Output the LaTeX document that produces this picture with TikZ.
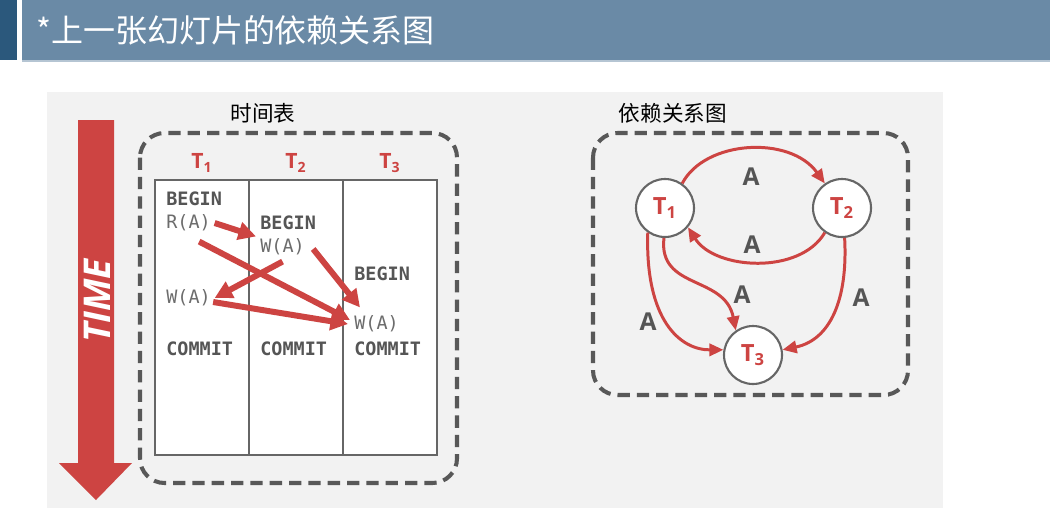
\documentclass[tikz,border=0pt]{standalone}
\usepackage{fontspec}
\setmainfont{Open Sans}
\newfontfamily\cjk{Noto Sans CJK SC}
\newfontfamily\mono{DejaVu Sans Mono}
\usetikzlibrary{arrows.meta}
\definecolor{barblue}{RGB}{106,138,166}
\definecolor{bardark}{RGB}{43,88,124}
\definecolor{panelgray}{RGB}{242,242,242}
\definecolor{depred}{RGB}{205,68,66}
\definecolor{boxgray}{RGB}{88,88,88}
\definecolor{txtgray}{RGB}{85,85,85}
\newcommand{\tsub}[2]{#1\textsubscript{#2}}
\tikzset{
  dashbox/.style={draw=boxgray,line width=2.3pt,dash pattern=on 7pt off 4pt,rounded corners=14pt},
  op/.style={anchor=west,inner sep=0pt,text=gray!85!black,font=\mono\fontsize{10.5}{12}\selectfont},
  kw/.style={op,text=txtgray,font=\mono\bfseries\fontsize{10.5}{12}\selectfont},
  tname/.style={text=depred,font=\bfseries\fontsize{12}{14}\selectfont},
  txn/.style={circle,draw=gray!80!black,line width=1.2pt,fill=white,minimum size=1.16cm,inner sep=0pt,text=depred,font=\bfseries\fontsize{13.5}{15}\selectfont},
  conflict/.style={draw=depred,line width=3.4pt,-{Triangle[length=10pt,width=10pt]}},
  dep/.style={draw=depred,line width=1.7pt,-{Triangle[length=8pt,width=7pt]}},
  elabel/.style={text=txtgray,font=\bfseries\fontsize{14}{16}\selectfont},
  caption/.style={font=\cjk\fontsize{12.3}{14}\selectfont}
}

\begin{document}
\begin{tikzpicture}[x=0.02cm,y=-0.02cm]
\useasboundingbox (0,0) rectangle (1050,518);
\fill[white] (0,0) rectangle (1050,518);
\fill[bardark] (0,0) rectangle (17,60);
\fill[barblue] (22,0) rectangle (1050,60);
\fill[barblue!50] (22,60) rectangle (1050,62);
\node[anchor=west,text=white,font=\cjk\fontsize{18.2}{20}\selectfont] (title) at (30,30) {*上一张幻灯片的依赖关系图};
\fill[panelgray] (47,92) rectangle (943,508);

% time arrow
\fill[depred] (78,120) -- (114,120) -- (114,463) -- (132,463) -- (96,500) -- (59,463) -- (78,463) -- cycle;
\node[rotate=90,text=white,font=\bfseries\itshape\fontsize{21}{24}\selectfont] (time) at (97,301) {TIME};

% schedule
\node[caption] (schedcap) at (263,113) {时间表};
\draw[dashbox] (140,133) rectangle (457,483);
\draw[gray!80!black,line width=0.6pt,fill=white] (155,180) rectangle (437,455);
\draw[gray!80!black,line width=0.6pt] (249,180) -- (249,455) (343,180) -- (343,455);
\node[tname] (h1) at (202,163) {\tsub{T}{1}};
\node[tname] (h2) at (296,163) {\tsub{T}{2}};
\node[tname] (h3) at (390,163) {\tsub{T}{3}};
\node[kw] (b1) at (166,199) {BEGIN};
\node[op] (r1) at (166,223) {R(A)};
\node[kw] (b2) at (260,223) {BEGIN};
\node[op] (w2) at (260,247) {W(A)};
\node[kw] (b3) at (354,274) {BEGIN};
\node[op] (w1) at (166,298) {W(A)};
\node[op] (w3) at (354,324) {W(A)};
\node[kw] (c1) at (166,349) {COMMIT};
\node[kw] (c2) at (260,349) {COMMIT};
\node[kw] (c3) at (354,349) {COMMIT};
\draw[conflict] ([xshift=2pt]r1.east) -- ([shift={(-4,-2)}]w2.north west);
\draw[conflict] ([shift={(-12,10)}]r1.south east) -- ([shift={(-4,-4)}]w3.west);
\draw[conflict] ([shift={(0,6)}]w2.south) -- ([xshift=2pt]w1.east);
\draw[conflict] ([shift={(8,2)}]w2.east) -- ([shift={(6,-8)}]w3.north west);
\draw[conflict] ([shift={(2,4)}]w1.east) -- ([shift={(-6,0)}]w3.west);

% graph
\node[caption] (graphcap) at (673,113) {依赖关系图};
\draw[dashbox] (593,133) rectangle (908,395);
\node[txn] (t1) at (665,208) {\tsub{T}{1}};
\node[txn] (t2) at (842,208) {\tsub{T}{2}};
\node[txn] (t3) at (753,355) {\tsub{T}{3}};
\draw[dep] (t1.55) .. controls (705,140) and (790,135) .. (t2.125);
\draw[dep] (t2.235) .. controls (800,275) and (715,270) .. (t1.-40);
\draw[dep] (t1.268) .. controls (658,290) and (725,275) .. (t3.125);
\draw[dep] (t1.235) .. controls (645,320) and (680,350) .. (t3.170);
\draw[dep] (t2.275) .. controls (848,300) and (830,340) .. (t3.10);
\node[elabel] (a12) at (751,177) {A};
\node[elabel] (a21) at (752,245) {A};
\node[elabel] (a13i) at (742,295) {A};
\node[elabel] (a13o) at (648,322) {A};
\node[elabel] (a23) at (861,298) {A};
\end{tikzpicture}
\end{document}
